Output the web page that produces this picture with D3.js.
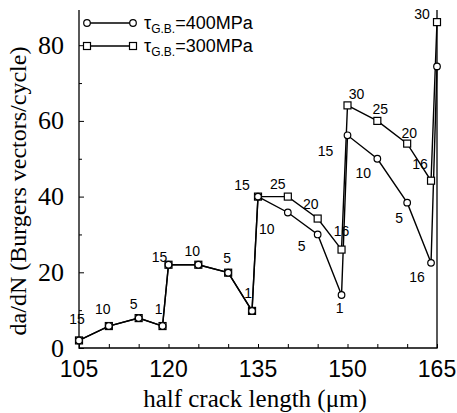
<!DOCTYPE html>
<html>
<head>
<meta charset="utf-8">
<script src="https://cdn.jsdelivr.net/npm/d3@7"></script>
<style>
  body { margin: 0; background: #fff; }
  svg { display: block; }
</style>
</head>
<body>
<svg id="chart"></svg>
<script>
'use strict'

// half crack length (um)
var crackLength = [105, 110, 115, 119, 120, 125, 130, 134, 135, 140, 145, 149, 150, 155, 160, 164, 165];

// da/dN for each grain boundary strength
var rate400 = [2, 5.8, 7.9, 5.8, 22, 22, 19.9, 9.8, 40, 35.8, 30, 14, 56.2, 50, 38.4, 22.5, 74.4];
var rate300 = [2, 5.8, 7.9, 5.8, 22, 22, 19.9, 9.8, 40, 40, 34.2, 26, 64.1, 60, 54, 44.2, 86.1];

// cycle numbers written beside the points ("" = none)
var cycles400 = ["15", "10", "5", "1", "15", "10", "5", "1", "15", "10", "5", "1", "15", "10", "5", "16", ""];
var cycles300 = ["", "", "", "", "", "", "", "", "", "25", "20", "16", "30", "25", "20", "16", "30"];

var xTicks = [105, 120, 135, 150, 165];
var yTicks = [0, 20, 40, 60, 80];
var legendLabels = ["400MPa", "300MPa"];

// --- layout
var WIDTH = 457, HEIGHT = 413;

// label offsets from their points, pixels
var offsets400 = [[-2, -21], [-6, -17], [-5, -14], [-4, -17], [-9, -8], [-6, -14], [-1, -15], [-4, -18], [-16, -12],
	[-21, 17], [-16, 12], [-2, 13], [-22, 16], [-14, 14], [-8, 15], [-14, 14], [0, 0]];
var offsets300 = [[0, 0], [0, 0], [0, 0], [0, 0], [0, 0], [0, 0], [0, 0], [0, 0], [0, 0],
	[-10, -13], [-7, -14], [0, -18], [9, -11], [3, -12], [2, -11], [-11, -17], [-15, -8]];

var sans = "'Liberation Sans', Arial, sans-serif",
	serif = "'Liberation Serif', 'Times New Roman', serif";

var svg = d3.select("#chart")
	.attr("width", WIDTH)
	.attr("height", HEIGHT);

var x = d3.scaleLinear().domain([105, 165]).range([79, 437]);
var y = d3.scaleLinear().domain([0, 89.3]).range([348, 10]);

// axes, ticks pointing inward
var xAxis = svg.append("g")
	.attr("transform", "translate(0," + y(0) + ")")
	.call(d3.axisTop(x).tickValues(d3.range(105, 166, 5)).tickSize(4).tickFormat(""));
xAxis.select(".domain").remove();

var yAxis = svg.append("g")
	.attr("transform", "translate(" + x(105) + ",0)")
	.call(d3.axisRight(y).tickValues(yTicks).tickSize(5).tickFormat(""));
yAxis.select(".domain").remove();

svg.append("g")
	.attr("transform", "translate(" + x(105) + ",0)")
	.call(d3.axisRight(y).tickValues([10, 30, 50, 70]).tickSize(3).tickFormat(""))
	.select(".domain").remove();

svg.selectAll(".tick line").attr("stroke", "#000").attr("stroke-width", 1);

// frame: left, bottom, right
svg.append("path")
	.attr("d", "M" + x(105) + "," + y(89.3) + "V" + y(0) + "H" + x(165) + "V" + y(89.3))
	.attr("fill", "none")
	.attr("stroke", "#000")
	.attr("stroke-width", 1.3);

// tick labels
svg.append("g").selectAll("text")
	.data(xTicks)
	.join("text")
	.attr("x", function(d) { return x(d); })
	.attr("y", 377)
	.attr("text-anchor", "middle")
	.style("font-family", sans)
	.style("font-size", "23px")
	.text(function(d) { return d; });

svg.append("g").selectAll("text")
	.data(yTicks)
	.join("text")
	.attr("x", 64)
	.attr("y", function(d) { return y(d); })
	.attr("dy", "0.33em")
	.attr("text-anchor", "end")
	.style("font-family", serif)
	.style("font-size", "26px")
	.text(function(d) { return d; });

// axis titles
svg.append("text")
	.attr("x", 255)
	.attr("y", 407)
	.attr("text-anchor", "middle")
	.style("font-family", serif)
	.style("font-size", "25px")
	.text("half crack length (\u03bcm)");

svg.append("text")
	.attr("transform", "translate(26,191) rotate(-90)")
	.attr("text-anchor", "middle")
	.style("font-family", serif)
	.style("font-size", "24px")
	.text("da/dN (Burgers vectors/cycle)");

// lines
var line = d3.line()
	.x(function(d) { return x(d[0]); })
	.y(function(d) { return y(d[1]); });

var pts400 = crackLength.map(function(c, i) { return [c, rate400[i]]; });
var pts300 = crackLength.map(function(c, i) { return [c, rate300[i]]; });

[pts300, pts400].forEach(function(pts) {
	svg.append("path")
		.attr("d", line(pts))
		.attr("fill", "none")
		.attr("stroke", "#000")
		.attr("stroke-width", 1.4);
});

// markers
function drawSquares(g, pts) {
	g.selectAll("rect")
		.data(pts)
		.join("rect")
		.attr("x", function(d) { return x(d[0]) - 3.5; })
		.attr("y", function(d) { return y(d[1]) - 3.5; })
		.attr("width", 7)
		.attr("height", 7)
		.attr("fill", "#fff")
		.attr("stroke", "#000")
		.attr("stroke-width", 1.2);
}

function drawCircles(g, pts) {
	g.selectAll("circle")
		.data(pts)
		.join("circle")
		.attr("cx", function(d) { return x(d[0]); })
		.attr("cy", function(d) { return y(d[1]); })
		.attr("r", 3.3)
		.attr("fill", "#fff")
		.attr("stroke", "#000")
		.attr("stroke-width", 1.2);
}

drawSquares(svg.append("g"), pts300);
drawCircles(svg.append("g"), pts400);

// cycle labels
function drawLabels(pts, labels, offs) {
	svg.append("g").selectAll("text")
		.data(pts.map(function(p, i) { return { p: p, t: labels[i], o: offs[i] }; })
			.filter(function(d) { return d.t !== ""; }))
		.join("text")
		.attr("x", function(d) { return x(d.p[0]) + d.o[0]; })
		.attr("y", function(d) { return y(d.p[1]) + d.o[1]; })
		.attr("dy", "0.35em")
		.attr("text-anchor", "middle")
		.attr("fill", "#000")
		.style("font-family", sans)
		.style("font-size", "14px")
		.text(function(d) { return d.t; });
}

drawLabels(pts400, cycles400, offsets400);
drawLabels(pts300, cycles300, offsets300);

// legend
var legend = svg.append("g");
legendLabels.forEach(function(lab, i) {
	var ly = 23 + i * 23;
	legend.append("line")
		.attr("x1", 87).attr("x2", 133)
		.attr("y1", ly).attr("y2", ly)
		.attr("stroke", "#000")
		.attr("stroke-width", 1.3);
	var ends = [[87, ly], [133, ly]];
	if (i === 0) {
		legend.selectAll(null).data(ends).join("circle")
			.attr("cx", function(d) { return d[0]; })
			.attr("cy", function(d) { return d[1]; })
			.attr("r", 3.3)
			.attr("fill", "#fff").attr("stroke", "#000").attr("stroke-width", 1.2);
	} else {
		legend.selectAll(null).data(ends).join("rect")
			.attr("x", function(d) { return d[0] - 3.5; })
			.attr("y", function(d) { return d[1] - 3.5; })
			.attr("width", 7).attr("height", 7)
			.attr("fill", "#fff").attr("stroke", "#000").attr("stroke-width", 1.2);
	}
	var t = legend.append("text")
		.attr("x", 144)
		.attr("y", ly + 6)
		.style("font-family", sans)
		.style("font-size", "18px");
	t.append("tspan").text("\u03c4");
	t.append("tspan").attr("dy", 4).style("font-size", "12px").text("G.B.");
	t.append("tspan").attr("dy", -4).text("=" + lab);
});
</script>
</body>
</html>
